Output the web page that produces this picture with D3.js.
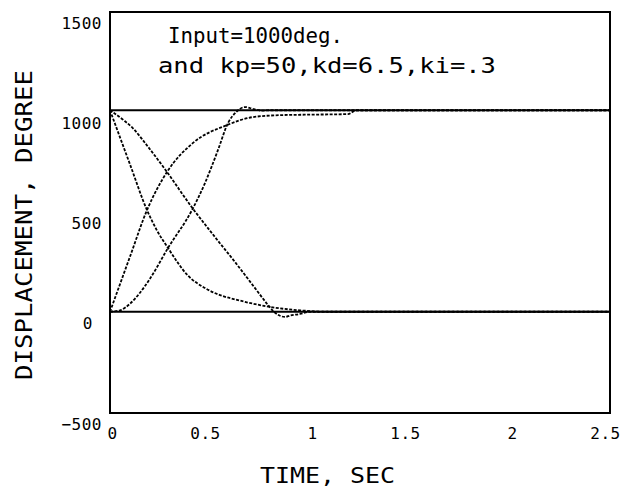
<!DOCTYPE html>
<html>
<head>
<meta charset="utf-8">
<script src="https://cdn.jsdelivr.net/npm/d3@7"></script>
<style>
  body { margin: 0; background: #fff; }
  svg { display: block; }
  text { font-family: "DejaVu Sans Mono", monospace; fill: #000; }
</style>
</head>
<body>
<script>
// tick values / labels
const xTicks = [0, 0.5, 1, 1.5, 2, 2.5];
const yTicks = [-500, 0, 500, 1000, 1500];

// input levels (start / end positions)
const inputLevels = [5, 1010];

// fast decreasing response
const fastDownT = [0, 0.1, 0.185, 0.235, 0.29, 0.39, 0.475, 0.55, 0.64, 0.8, 0.95, 1.1, 2.5];
const fastDownV = [1010, 740, 512, 410, 323, 185, 123, 88, 63, 29, 12, 5, 5];

// fast increasing response
const fastUpT = [0, 0.1, 0.185, 0.285, 0.415, 0.585, 0.715, 0.865, 1.0, 1.19, 1.23, 2.5];
const fastUpV = [5, 280, 512, 702, 847, 936, 976, 986, 988, 991, 1009, 1010];

// slow decreasing response (with undershoot)
const slowDownT = [0, 0.075, 0.115, 0.175, 0.285, 0.41, 0.515, 0.625, 0.725, 0.79, 0.82, 0.85, 0.875, 0.9, 0.95, 1.0, 2.5];
const slowDownV = [1010, 955, 920, 847, 702, 525, 390, 253, 123, 39, 5, -15, -21, -14, -6, 5, 5];

// slow increasing response (with overshoot)
const slowUpT = [0, 0.05, 0.1, 0.15, 0.2, 0.29, 0.41, 0.475, 0.54, 0.59, 0.63, 0.675, 0.72, 0.76, 0.8, 2.5];
const slowUpV = [5, 12, 45, 100, 170, 323, 512, 647, 812, 946, 1000, 1026, 1015, 1008, 1010, 1010];

const width = 621, height = 489;
const plot = {left: 110, right: 610, top: 12, bottom: 413};

const svg = d3.select(document.body).append('svg')
  .attr('width', width)
  .attr('height', height);

const x = d3.scaleLinear().domain([0, 2.5]).range([plot.left, plot.right]);
const y = d3.scaleLinear().domain([-500, 1500]).range([plot.bottom, plot.top]);

// frame
svg.append('rect')
  .attr('x', x(0)).attr('y', y(1500))
  .attr('width', x(2.5) - x(0)).attr('height', y(-500) - y(1500))
  .attr('fill', 'none').attr('stroke', '#000').attr('stroke-width', 2);

// axes (labels only, the old plotter drew no tick marks)
const yAxis = svg.append('g')
  .attr('transform', `translate(${plot.left},0)`)
  .call(d3.axisLeft(y).tickValues(yTicks).tickSize(0).tickPadding(8).tickFormat(d3.format('d')));
yAxis.select('.domain').remove();
yAxis.selectAll('text')
  .attr('y', 11)
  .attr('dx', d => d === 0 ? -9 : 0)
  .style('font-family', '"DejaVu Sans Mono", monospace')
  .style('font-size', '16px')
  .style('letter-spacing', '0.5px');

const xAxis = svg.append('g')
  .attr('transform', `translate(0,${plot.bottom})`)
  .call(d3.axisBottom(x).tickValues(xTicks).tickSize(0).tickFormat(d => String(d)));
xAxis.select('.domain').remove();
xAxis.selectAll('text')
  .attr('y', 15)
  .attr('dx', d => Number.isInteger(d) ? 2 : -5)
  .style('font-family', '"DejaVu Sans Mono", monospace')
  .style('font-size', '16px')
  .style('letter-spacing', '0.5px');

// input level lines
const levelLine = d3.line().x(d => x(d[0])).y(d => y(d[1]));
inputLevels.forEach(v => {
  svg.append('path')
    .attr('d', levelLine([[0, v], [2.5, v]]))
    .attr('fill', 'none').attr('stroke', '#000').attr('stroke-width', 2);
});

// responses
const curve = d3.line()
  .x(d => x(d[0]))
  .y(d => y(d[1]))
  .curve(d3.curveMonotoneX);

const series = [
  d3.zip(fastDownT, fastDownV),
  d3.zip(fastUpT, fastUpV),
  d3.zip(slowDownT, slowDownV),
  d3.zip(slowUpT, slowUpV)
];

svg.selectAll('path.resp')
  .data(series)
  .enter()
  .append('path')
  .attr('class', 'resp')
  .attr('d', curve)
  .attr('fill', 'none')
  .attr('stroke', '#000')
  .attr('stroke-width', 1.8)
  .attr('stroke-dasharray', '3,1.5');

// annotation
svg.append('text')
  .attr('x', 168).attr('y', 43)
  .attr('textLength', 175).attr('lengthAdjust', 'spacingAndGlyphs')
  .style('font-size', '22px')
  .text('Input=1000deg.');
svg.append('text')
  .attr('x', 158).attr('y', 73)
  .attr('textLength', 338).attr('lengthAdjust', 'spacingAndGlyphs')
  .style('font-size', '22px')
  .text('and kp=50,kd=6.5,ki=.3');

// axis titles
svg.append('text')
  .attr('x', 260).attr('y', 483)
  .attr('textLength', 135).attr('lengthAdjust', 'spacingAndGlyphs')
  .style('font-size', '22px')
  .text('TIME,  SEC');
svg.append('text')
  .attr('transform', 'translate(32,380) rotate(-90)')
  .attr('textLength', 310).attr('lengthAdjust', 'spacingAndGlyphs')
  .style('font-size', '23px')
  .text('DISPLACEMENT,  DEGREE');
</script>
</body>
</html>
